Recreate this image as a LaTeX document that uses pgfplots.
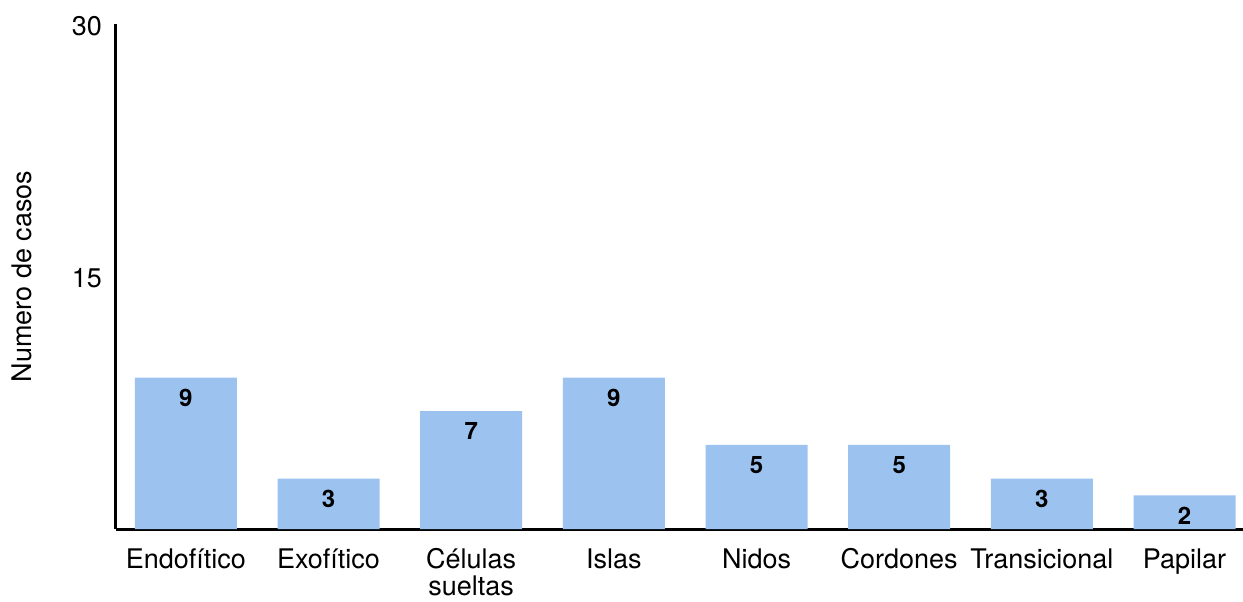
\documentclass[border=0pt]{standalone}
\usepackage{fontspec}
\setmainfont{TeX Gyre Heros}
\usepackage{pgfplots}
\pgfplotsset{compat=1.18}
\definecolor{barblue}{HTML}{9CC2EF}
\begin{document}
\begin{tikzpicture}[font=\fontsize{13.5}{15.5}\selectfont]
\path[use as bounding box] (-58pt,-36pt) rectangle (563.5pt,264.5pt);
\begin{axis}[
  at={(0,0)}, anchor=south west, scale only axis,
  width=563.5pt, height=252.5pt,
  xmin=-0.49, xmax=7.41, ymin=0, ymax=30,
  axis x line=bottom, axis y line=left,
  axis line style={line width=1.5pt, -},
  /pgf/number format/assume math mode=true,
  ytick={15,30}, major tick length=0pt,
  yticklabel style={xshift=-3.5pt, yshift=-1pt},
  xtick=data,
  xticklabels={Endofítico, Exofítico, {\begin{tabular}[t]{@{}c@{}}Células\\[-2pt]sueltas\end{tabular}}, Islas, Nidos, Cordones, Transicional, Papilar},
  xticklabel style={anchor=base, yshift=-19.5pt},
  ylabel={Numero de casos},
  every axis y label/.style={at={(axis description cs:-0.0834,0.5)}, rotate=90, anchor=center},
  ybar, bar width=51pt,
  nodes near coords,
  nodes near coords align={below},
  every node near coord/.append style={font=\fontsize{12}{14}\selectfont\bfseries, yshift=-2.25pt, black},
]
\addplot[fill=barblue, draw=none]
  coordinates {(0,9) (1,3) (2,7) (3,9) (4,5) (5,5) (6,3) (7,2)};
\end{axis}
\end{tikzpicture}
\end{document}
